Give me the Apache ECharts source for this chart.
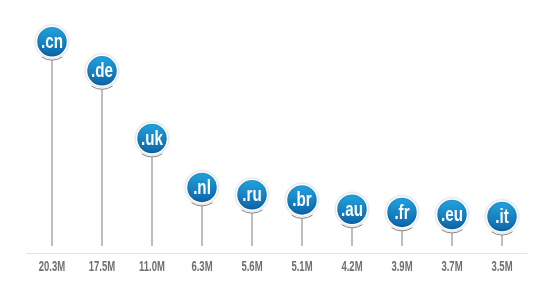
<!DOCTYPE html>
<html>
<head>
<meta charset="utf-8">
<script src="https://cdn.jsdelivr.net/npm/echarts@6/dist/echarts.min.js"></script>
<style>html,body{margin:0;padding:0;background:#fff;}#c{width:554px;height:291px;}</style>
</head>
<body>
<div id="c"></div>
<script>
const domains = ['.cn', '.de', '.uk', '.nl', '.ru', '.br', '.au', '.fr', '.eu', '.it'];
const values = [20.3, 17.5, 11.0, 6.3, 5.6, 5.1, 4.2, 3.9, 3.7, 3.5];
const valueLabels = ['20.3M', '17.5M', '11.0M', '6.3M', '5.6M', '5.1M', '4.2M', '3.9M', '3.7M', '3.5M'];

const FONT = "'Liberation Sans', Arial, sans-serif";
const chart = echarts.init(document.getElementById('c'));
chart.setOption({
  animation: false,
  grid: { left: 27, right: 27, top: 24, bottom: 38 },
  xAxis: {
    type: 'category',
    data: domains,
    axisLine: { show: true, lineStyle: { color: '#e3e3e3', width: 1 } },
    axisTick: { show: false },
    axisLabel: { show: false }
  },
  yAxis: { type: 'value', min: 0, max: 22, show: false, splitLine: { show: false } },
  series: [{
    type: 'custom',
    data: values.map((v, i) => [i, v]),
    renderItem: function (params, api) {
      const i = api.value(0);
      const p = api.coord([i, api.value(1)]);
      const base = api.coord([i, 0]);
      const r = 15.5;
      return {
        type: 'group',
        children: [
          {
            type: 'line',
            shape: { x1: p[0], y1: p[1] + 18.5, x2: p[0], y2: base[1] - 7 },
            style: { stroke: '#a8a8a8', lineWidth: 1.5 }
          },
          {
            type: 'arc',
            shape: { cx: p[0], cy: p[1], r: 18.5, startAngle: Math.PI / 2 - 0.6, endAngle: Math.PI / 2 + 0.6 },
            style: { stroke: '#8a8a8a', lineWidth: 1, fill: null }
          },
          {
            type: 'circle',
            shape: { cx: p[0], cy: p[1], r: r },
            style: {
              fill: new echarts.graphic.LinearGradient(0, 0, 0, 1, [
                { offset: 0, color: '#24a6e2' },
                { offset: 1, color: '#0a62a6' }
              ]),
              stroke: '#ffffff',
              lineWidth: 1.5,
              shadowColor: 'rgba(0,0,0,0.22)',
              shadowBlur: 3
            }
          },
          {
            type: 'text',
            x: p[0],
            y: p[1] + 1,
            scaleX: 0.76,
            style: {
              text: domains[i],
              fill: '#ffffff',
              fontFamily: FONT,
              fontWeight: 'bold',
              fontSize: 20,
              align: 'center',
              verticalAlign: 'middle'
            }
          },
          {
            type: 'text',
            x: base[0],
            y: base[1] + 14,
            scaleX: 0.68,
            style: {
              text: valueLabels[i],
              fill: '#707070',
              fontFamily: FONT,
              fontWeight: 'bold',
              fontSize: 14,
              align: 'center',
              verticalAlign: 'middle'
            }
          }
        ]
      };
    }
  }]
});
</script>
</body>
</html>
